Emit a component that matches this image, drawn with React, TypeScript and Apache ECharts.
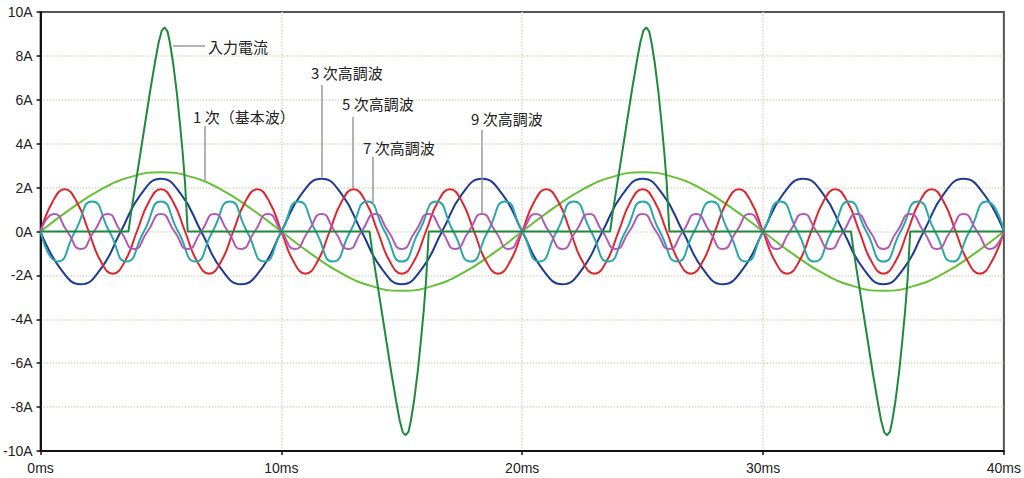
import React, { useEffect, useRef } from "react";
import * as echarts from "echarts";

// Time axis tick labels (ms) and current axis (A)
const xTicks = [0, 10, 20, 30, 40];
const yTicks = [-10, -8, -6, -4, -2, 0, 2, 4, 6, 8, 10];

// 入力電流 (input current pulses)
const inputTime = [
  0, 3.65, 3.75, 3.95, 4.15, 4.35, 4.55, 4.75, 4.9, 5.03, 5.15, 5.27, 5.37, 5.5, 5.65, 5.78, 5.9, 6.0, 6.07, 6.11,
  13.66, 13.76, 13.96, 14.16, 14.36, 14.56, 14.76, 14.91, 15.04, 15.16, 15.28, 15.38, 15.51, 15.66, 15.79, 15.91, 16.01, 16.08, 16.12,
  23.65, 23.75, 23.95, 24.15, 24.35, 24.55, 24.75, 24.9, 25.03, 25.15, 25.27, 25.37, 25.5, 25.65, 25.78, 25.9, 26.0, 26.07, 26.11,
  33.65, 33.75, 33.95, 34.15, 34.35, 34.55, 34.75, 34.9, 35.03, 35.15, 35.27, 35.37, 35.5, 35.65, 35.78, 35.9, 36.0, 36.07, 36.11,
  40,
];
const inputValue = [
  0, 0, 0.8, 2.2, 3.6, 5.0, 6.4, 7.7, 8.6, 9.15, 9.3, 9.12, 8.6, 7.7, 6.4, 5.0, 3.6, 2.2, 0.8, 0,
  0, -0.8, -2.2, -3.6, -5.0, -6.4, -7.7, -8.6, -9.15, -9.28, -9.12, -8.6, -7.7, -6.4, -5.0, -3.6, -2.2, -0.8, 0,
  0, 0.8, 2.2, 3.6, 5.0, 6.4, 7.7, 8.6, 9.15, 9.3, 9.12, 8.6, 7.7, 6.4, 5.0, 3.6, 2.2, 0.8, 0,
  0, -0.8, -2.2, -3.6, -5.0, -6.4, -7.7, -8.6, -9.15, -9.28, -9.12, -8.6, -7.7, -6.4, -5.0, -3.6, -2.2, -0.8, 0,
  0,
];

// 1 次（基本波）
const fundTime = [
  0, 1.25, 2.5, 3.75, 5, 6.25, 7.5, 8.75, 10, 11.25, 12.5, 13.75, 15, 16.25, 17.5, 18.75, 20,
  21.25, 22.5, 23.75, 25, 26.25, 27.5, 28.75, 30, 31.25, 32.5, 33.75, 35, 36.25, 37.5, 38.75, 40,
];
const fundValue = [
  0, 1.03, 1.91, 2.49, 2.7, 2.49, 1.91, 1.03, 0, -1.03, -1.91, -2.49, -2.7, -2.49, -1.91, -1.03,
  0, 1.03, 1.91, 2.49, 2.7, 2.49, 1.91, 1.03, 0, -1.03, -1.91, -2.49, -2.7, -2.49, -1.91, -1.03,
  0,
];

// 3 次高調波
const h3Time = [
  0, 0.83, 1.67, 2.5, 3.33, 4.17, 5, 5.83, 6.67, 7.5, 8.33, 9.17, 10, 10.83, 11.67, 12.5, 13.33, 14.17, 15, 15.83,
  16.67, 17.5, 18.33, 19.17, 20, 20.83, 21.67, 22.5, 23.33, 24.17, 25, 25.83, 26.67, 27.5, 28.33, 29.17, 30, 30.83,
  31.67, 32.5, 33.33, 34.17, 35, 35.83, 36.67, 37.5, 38.33, 39.17, 40,
];
const h3Value = [
  0, -1.7, -2.4, -1.7, 0, 1.7, 2.4, 1.7,
  0, -1.7, -2.4, -1.7, 0, 1.7, 2.4, 1.7,
  0, -1.7, -2.4, -1.7, 0, 1.7, 2.4, 1.7,
  0, -1.7, -2.4, -1.7, 0, 1.7, 2.4, 1.7,
  0, -1.7, -2.4, -1.7, 0, 1.7, 2.4, 1.7,
  0, -1.7, -2.4, -1.7, 0, 1.7, 2.4, 1.7,
  0,
];

// 5 次高調波
const h5Time = [
  0, 0.5, 1, 1.5, 2, 2.5, 3, 3.5, 4, 4.5, 5, 5.5, 6, 6.5, 7, 7.5, 8, 8.5, 9, 9.5, 10,
  10.5, 11, 11.5, 12, 12.5, 13, 13.5, 14, 14.5, 15, 15.5, 16, 16.5, 17, 17.5, 18, 18.5, 19, 19.5, 20,
  20.5, 21, 21.5, 22, 22.5, 23, 23.5, 24, 24.5, 25, 25.5, 26, 26.5, 27, 27.5, 28, 28.5, 29, 29.5, 30,
  30.5, 31, 31.5, 32, 32.5, 33, 33.5, 34, 34.5, 35, 35.5, 36, 36.5, 37, 37.5, 38, 38.5, 39, 39.5, 40,
];
const h5Value = [
  0, 1.36, 1.92, 1.36, 0, -1.36, -1.92, -1.36,
  0, 1.36, 1.92, 1.36, 0, -1.36, -1.92, -1.36,
  0, 1.36, 1.92, 1.36, 0, -1.36, -1.92, -1.36,
  0, 1.36, 1.92, 1.36, 0, -1.36, -1.92, -1.36,
  0, 1.36, 1.92, 1.36, 0, -1.36, -1.92, -1.36,
  0, 1.36, 1.92, 1.36, 0, -1.36, -1.92, -1.36,
  0, 1.36, 1.92, 1.36, 0, -1.36, -1.92, -1.36,
  0, 1.36, 1.92, 1.36, 0, -1.36, -1.92, -1.36,
  0, 1.36, 1.92, 1.36, 0, -1.36, -1.92, -1.36,
  0, 1.36, 1.92, 1.36, 0, -1.36, -1.92, -1.36,
  0,
];

// 7 次高調波
const h7Time = [
  0, 0.71, 1.43, 2.14, 2.86, 3.57, 4.29, 5, 5.71, 6.43, 7.14, 7.86, 8.57, 9.29, 10, 10.71, 11.43, 12.14, 12.86,
  13.57, 14.29, 15, 15.71, 16.43, 17.14, 17.86, 18.57, 19.29, 20, 20.71, 21.43, 22.14, 22.86, 23.57, 24.29, 25,
  25.71, 26.43, 27.14, 27.86, 28.57, 29.29, 30, 30.71, 31.43, 32.14, 32.86, 33.57, 34.29, 35, 35.71, 36.43, 37.14,
  37.86, 38.57, 39.29, 40,
];
const h7Value = [
  0, -1.37, 0, 1.37, 0, -1.37, 0, 1.37, 0, -1.37, 0, 1.37, 0, -1.37, 0, 1.37,
  0, -1.37, 0, 1.37, 0, -1.37, 0, 1.37, 0, -1.37, 0, 1.37, 0, -1.37, 0, 1.37,
  0, -1.37, 0, 1.37, 0, -1.37, 0, 1.37, 0, -1.37, 0, 1.37, 0, -1.37, 0, 1.37,
  0, -1.37, 0, 1.37, 0, -1.37, 0, 1.37, 0,
];

// 9 次高調波
const h9Time = [
  0, 0.56, 1.11, 1.67, 2.22, 2.78, 3.33, 3.89, 4.44, 5, 5.56, 6.11, 6.67, 7.22, 7.78, 8.33, 8.89, 9.44, 10,
  10.56, 11.11, 11.67, 12.22, 12.78, 13.33, 13.89, 14.44, 15, 15.56, 16.11, 16.67, 17.22, 17.78, 18.33, 18.89,
  19.44, 20, 20.56, 21.11, 21.67, 22.22, 22.78, 23.33, 23.89, 24.44, 25, 25.56, 26.11, 26.67, 27.22, 27.78,
  28.33, 28.89, 29.44, 30, 30.56, 31.11, 31.67, 32.22, 32.78, 33.33, 33.89, 34.44, 35, 35.56, 36.11, 36.67,
  37.22, 37.78, 38.33, 38.89, 39.44, 40,
];
const h9Value = [
  0, 0.8, 0, -0.8, 0, 0.8, 0, -0.8, 0, 0.8, 0, -0.8, 0, 0.8, 0, -0.8,
  0, 0.8, 0, -0.8, 0, 0.8, 0, -0.8, 0, 0.8, 0, -0.8, 0, 0.8, 0, -0.8,
  0, 0.8, 0, -0.8, 0, 0.8, 0, -0.8, 0, 0.8, 0, -0.8, 0, 0.8, 0, -0.8,
  0, 0.8, 0, -0.8, 0, 0.8, 0, -0.8, 0, 0.8, 0, -0.8, 0, 0.8, 0, -0.8,
  0, 0.8, 0, -0.8, 0, 0.8, 0, -0.8, 0,
];

const zip = (t: number[], v: number[]) => t.map((x, i) => [x, v[i]]);

export default function App() {
  const ref = useRef<HTMLDivElement>(null);
  useEffect(() => {
    if (!ref.current) return;
    const chart = echarts.init(ref.current, undefined, { renderer: "svg" });
    const font = "'Liberation Sans', Arial, sans-serif";
    const cjkFont = "15px 'Noto Sans CJK JP', sans-serif";
    const mk = (name: string, color: string, t: number[], v: number[], smooth: number | boolean) => ({
      type: "line",
      name,
      data: zip(t, v),
      symbol: "none",
      showSymbol: false,
      smooth,
      silent: true,
      lineStyle: { color, width: 2 },
      itemStyle: { color },
    });
    const leader = (x1: number, y1: number, x2: number, y2: number) => ({
      type: "line",
      shape: { x1, y1, x2, y2 },
      style: { stroke: "#9a9a9a", lineWidth: 1.5 },
      z: 100,
    });
    const label = (x: number, y: number, text: string) => ({
      type: "text",
      x,
      y,
      style: { text, fill: "#222", font: cjkFont, verticalAlign: "middle", align: "left" },
      z: 100,
    });
    const splitStyle = { color: "#dadac4", type: "dotted", width: 1.5 };
    chart.setOption({
      animation: false,
      grid: {
        left: 40,
        right: 16,
        top: 12,
        bottom: 27,
        show: true,
        borderColor: "#555",
        borderWidth: 2,
      },
      xAxis: {
        type: "value",
        min: xTicks[0],
        max: xTicks[xTicks.length - 1],
        interval: xTicks[1] - xTicks[0],
        axisLine: { show: true, onZero: false, lineStyle: { color: "#111", width: 2 } },
        axisTick: { show: true, length: 4, lineStyle: { color: "#111", width: 1.5 } },
        axisLabel: { formatter: "{value}ms", color: "#222", fontSize: 14, fontFamily: font, margin: 10 },
        splitLine: { show: true, showMinLine: false, showMaxLine: false, lineStyle: splitStyle },
      },
      yAxis: {
        type: "value",
        min: yTicks[0],
        max: yTicks[yTicks.length - 1],
        interval: yTicks[1] - yTicks[0],
        axisLine: { show: true, onZero: false, lineStyle: { color: "#111", width: 2 } },
        axisTick: { show: true, length: 4, lineStyle: { color: "#111", width: 1.5 } },
        axisLabel: { formatter: "{value}A", color: "#222", fontSize: 14, fontFamily: font, margin: 8 },
        splitLine: { show: true, showMinLine: false, showMaxLine: false, lineStyle: splitStyle },
      },
      series: [
        mk("1 次（基本波）", "#66c036", fundTime, fundValue, 0.5),
        mk("3 次高調波", "#1d3a98", h3Time, h3Value, 0.5),
        mk("5 次高調波", "#e0242c", h5Time, h5Value, 0.5),
        mk("7 次高調波", "#2aa8a8", h7Time, h7Value, 0.6),
        mk("9 次高調波", "#b458b8", h9Time, h9Value, 0.6),
        mk("入力電流", "#1f8a3e", inputTime, inputValue, false),
      ],
      graphic: [
        leader(173, 46, 205, 46),
        label(208, 46, "入力電流"),
        leader(205, 126, 205, 180),
        label(193, 116, "1 次（基本波）"),
        leader(322, 85, 322, 177),
        label(311, 72, "3 次高調波"),
        leader(353, 117, 353, 188),
        label(342, 103, "5 次高調波"),
        leader(373, 157, 373, 205),
        label(363, 147, "7 次高調波"),
        leader(482, 130, 482, 213),
        label(471, 118, "9 次高調波"),
      ],
    });
    return () => chart.dispose();
  }, []);
  return (
    <div
      ref={ref}
      style={{ position: "fixed", left: 0, top: 0, width: 1024, height: 478, background: "#fff" }}
    />
  );
}
